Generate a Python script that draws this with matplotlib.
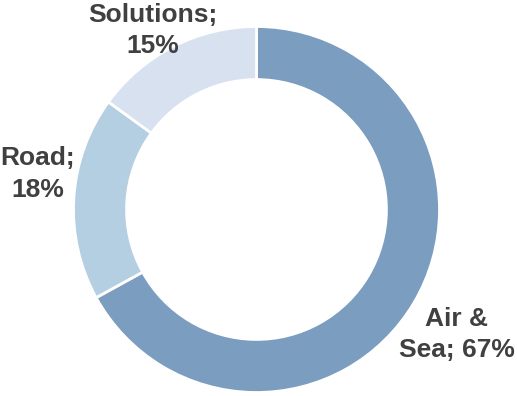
import numpy as np
import matplotlib
matplotlib.use('Agg')
import matplotlib.pyplot as plt

labels = ["Air &\nSea; 67%", "Road;\n18%", "Solutions;\n15%"]
values = [67, 18, 15]
colors = ["#7b9dc0", "#b4cfe2", "#d7e1ef"]

# label placement (angle in degrees, distance in radii)
label_angle = [-32, 170.8, 120]
label_dist = [1.29, 1.21, 1.13]

fig = plt.figure(figsize=(5.17, 3.96), dpi=100)
ax = fig.add_axes([0, 0, 1, 1])

R = 183.0
cx, cy = 256.5, 209.5

ax.pie(values, colors=colors, startangle=90, counterclock=False, radius=1,
       wedgeprops=dict(width=0.29, edgecolor="white", linewidth=2))

for lab, a, d in zip(labels, label_angle, label_dist):
    x = d * np.cos(np.radians(a))
    y = d * np.sin(np.radians(a))
    ax.text(x, y, lab, ha="center", va="center", fontsize=19,
            fontweight="bold", color="#404040", family="Liberation Sans",
            linespacing=1.4)

ax.set_xlim(-cx / R, (517 - cx) / R)
ax.set_ylim(-(396 - cy) / R, cy / R)
ax.set_aspect("equal")
ax.axis("off")

fig.savefig("out.png", dpi=100)
